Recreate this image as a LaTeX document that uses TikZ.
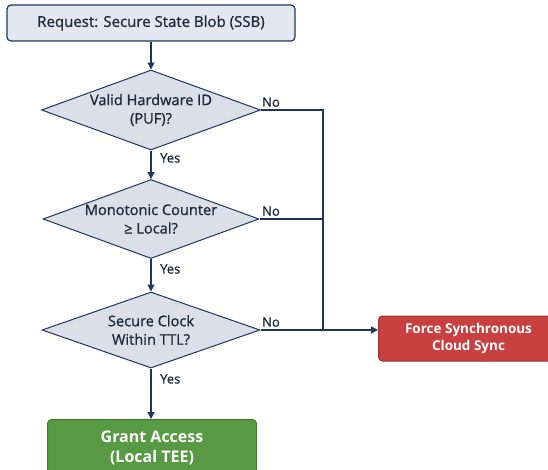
\documentclass[tikz,border=0pt]{standalone}
\usepackage{fontspec}
\setmainfont{Open Sans}
\newfontfamily\medfont{Open Sans}[FakeBold=1.0]
\usetikzlibrary{shapes.geometric,arrows.meta}
\definecolor{navy}{HTML}{1F3560}
\definecolor{boxfill}{HTML}{E3E7F0}
\definecolor{diafill}{HTML}{DADFE8}
\definecolor{redfill}{HTML}{C8403F}
\definecolor{redline}{HTML}{A03030}
\definecolor{greenfill}{HTML}{589A43}
\definecolor{greenline}{HTML}{3F7A30}
\definecolor{txt}{HTML}{1E2A3A}
\begin{document}
\begin{tikzpicture}[x=1pt,y=-1pt,
  conn/.style={draw=navy,line width=1.3pt},
  arr/.style={conn,-{Triangle[length=7pt,width=7pt]}},
  lbl/.style={font=\medfont\fontsize{13}{15}\selectfont,text=txt,inner sep=0pt},
  dec/.style={diamond,draw=navy,line width=1pt,fill=diafill,aspect=2.74,inner sep=0pt,minimum width=219pt,minimum height=80pt,align=center,text=txt,font=\medfont\fontsize{14.6}{18.5}\selectfont},
  startbox/.style={draw=navy,line width=1.2pt,fill=boxfill,rounded corners=4pt,minimum width=288pt,minimum height=36pt,text=txt,font=\medfont\fontsize{15}{18}\selectfont},
  redbox/.style={draw=redline,line width=1pt,fill=redfill,rounded corners=4pt,minimum width=180pt,minimum height=45pt,align=center,text=white,font=\bfseries\fontsize{13.5}{17.5}\selectfont},
  greenbox/.style={draw=greenline,line width=1pt,fill=greenfill,rounded corners=4pt,minimum width=209pt,minimum height=56pt,align=center,text=white,font=\bfseries\fontsize{16}{20}\selectfont}
]
\useasboundingbox (0,0) rectangle (548,469);
\clip (0,0) rectangle (548,469);
\node[startbox] (req) at (151,23) {Request: Secure State Blob (SSB)};
\node[dec] (d1) at (151,110) {Valid Hardware ID\\(PUF)?};
\node[dec,minimum width=216pt,minimum height=79pt] (d2) at (151,219) {Monotonic Counter\\≥ Local?};
\node[dec,minimum width=218pt,minimum height=76pt] (d3) at (151,330) {Secure Clock\\Within TTL?};
\node[redbox,anchor=west] (sync) at (378,338.5) {Force Synchronous\\Cloud Sync};
\node[greenbox,anchor=north west] (grant) at (47,419) {Grant Access\\(Local TEE)};
\coordinate (j1) at (323,110);
\coordinate (j2) at (323,219);
\coordinate (j3) at (323,330);
\coordinate (synin) at (378,330);
\draw[arr] (req.south) -- (d1.north);
\draw[arr] (d1.south) -- (d2.north);
\draw[arr] (d2.south) -- (d3.north);
\draw[arr] (d3.south) -- (d3.south |- grant.north);
\draw[conn] (d1.east) -- (j1) -- (j3);
\draw[conn] (d2.east) -- (j2);
\draw[arr] (d3.east) -- (synin);
\node[lbl,anchor=south west] (no1) at (262,107) {No};
\node[lbl,anchor=south west] (no2) at (262,216) {No};
\node[lbl,anchor=south west] (no3) at (262,327) {No};
\node[lbl,anchor=west] (yes1) at (160,158) {Yes};
\node[lbl,anchor=west] (yes2) at (160,269) {Yes};
\node[lbl,anchor=west] (yes3) at (160,379) {Yes};
\end{tikzpicture}
\end{document}
